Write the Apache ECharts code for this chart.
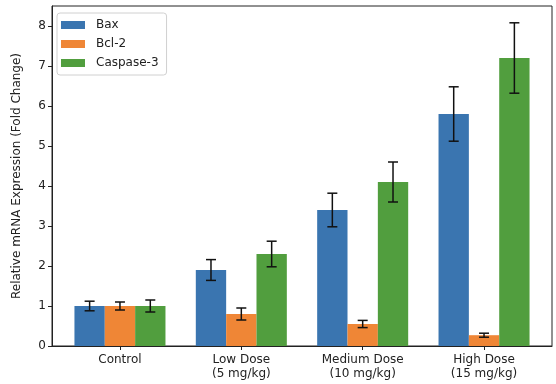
<!DOCTYPE html>
<html>
<head>
<meta charset="utf-8">
<script src="https://cdn.jsdelivr.net/npm/echarts@6/dist/echarts.min.js"></script>
<style>html,body{margin:0;padding:0;background:#fff;}#c{width:556px;height:384px;}</style>
</head>
<body>
<div id="c"></div>
<script>
const categories = ['Control', 'Low Dose\n(5 mg/kg)', 'Medium Dose\n(10 mg/kg)', 'High Dose\n(15 mg/kg)'];
const seriesNames = ['Bax', 'Bcl-2', 'Caspase-3'];
const baxValues = [1.0, 1.9, 3.4, 5.8];
const baxErrors = [0.12, 0.26, 0.42, 0.68];
const bcl2Values = [1.0, 0.8, 0.55, 0.27];
const bcl2Errors = [0.10, 0.15, 0.09, 0.05];
const casp3Values = [1.0, 2.3, 4.1, 7.2];
const casp3Errors = [0.15, 0.32, 0.50, 0.88];
const yTicks = [0, 1, 2, 3, 4, 5, 6, 7, 8];

const colors = ['#3a75b0', '#ef8636', '#519e3e'];
const offsets = [-0.25, 0, 0.25];
const barW = 0.25;
const valueSets = [baxValues, bcl2Values, casp3Values];
const errorSets = [baxErrors, bcl2Errors, casp3Errors];

function makeRender(si) {
  return function (params, api) {
    const x = api.value(0) + offsets[si];
    const v = api.value(1);
    const e = api.value(2);
    const top = api.coord([x, v]);
    const base = api.coord([x, 0]);
    const w = api.size([barW, 0])[0];
    const hi = api.coord([x, v + e]);
    const lo = api.coord([x, v - e]);
    const cap = 5;
    const ls = { stroke: '#111', lineWidth: 1.5 };
    return {
      type: 'group',
      children: [
        { type: 'rect', shape: { x: top[0] - w / 2, y: top[1], width: w, height: base[1] - top[1] }, style: { fill: colors[si] } },
        { type: 'line', z2: 10, shape: { x1: hi[0], y1: hi[1], x2: lo[0], y2: lo[1] }, style: ls },
        { type: 'line', z2: 10, shape: { x1: hi[0] - cap, y1: hi[1], x2: hi[0] + cap, y2: hi[1] }, style: ls },
        { type: 'line', z2: 10, shape: { x1: lo[0] - cap, y1: lo[1], x2: lo[0] + cap, y2: lo[1] }, style: ls }
      ]
    };
  };
}

const series = seriesNames.map((name, si) => ({
  name: name,
  type: 'custom',
  renderItem: makeRender(si),
  itemStyle: { color: colors[si] },
  encode: { x: 0, y: 1 },
  data: valueSets[si].map((v, i) => [i, v, errorSets[si][i]])
}));

const chart = echarts.init(document.getElementById('c'), null, { renderer: 'canvas' });
const font = 'DejaVu Sans';
chart.setOption({
  animation: false,
  textStyle: { fontFamily: font },
  grid: { left: 52, right: 4, top: 6, bottom: 38, show: true, borderColor: '#222', borderWidth: 1, backgroundColor: 'transparent' },
  legend: {
    orient: 'vertical', left: 57, top: 13,
    data: seriesNames.map(n => ({ name: n, icon: 'rect' })),
    itemWidth: 24, itemHeight: 8, itemGap: 5,
    padding: [5, 8, 5, 4],
    borderColor: '#d0d0d0', borderWidth: 1, borderRadius: 3, backgroundColor: '#fff',
    textStyle: { fontFamily: font, fontSize: 12, color: '#222', lineHeight: 14, padding: [0, 0, 0, 6] }
  },
  xAxis: {
    type: 'value', min: -0.56, max: 3.56,
    splitLine: { show: false },
    axisLine: { show: true, onZero: false, lineStyle: { color: '#222' } },
    axisTick: { show: true, customValues: [0, 1, 2, 3], length: 4, lineStyle: { color: '#222' } },
    axisLabel: {
      customValues: [0, 1, 2, 3], margin: 7,
      formatter: v => categories[Math.round(v)],
      fontFamily: font, fontSize: 12, color: '#222', lineHeight: 14
    }
  },
  yAxis: {
    type: 'value', min: 0, max: 8.5,
    name: 'Relative mRNA Expression (Fold Change)',
    nameLocation: 'middle', nameGap: 29, nameRotate: 90,
    nameTextStyle: { fontFamily: font, fontSize: 12, color: '#222' },
    splitLine: { show: false },
    axisLine: { show: true, onZero: false, lineStyle: { color: '#222' } },
    axisTick: { show: true, customValues: yTicks, length: 4, lineStyle: { color: '#222' } },
    axisLabel: { customValues: yTicks, margin: 6, fontFamily: font, fontSize: 12, color: '#222' }
  },
  series: series
});
</script>
</body>
</html>
